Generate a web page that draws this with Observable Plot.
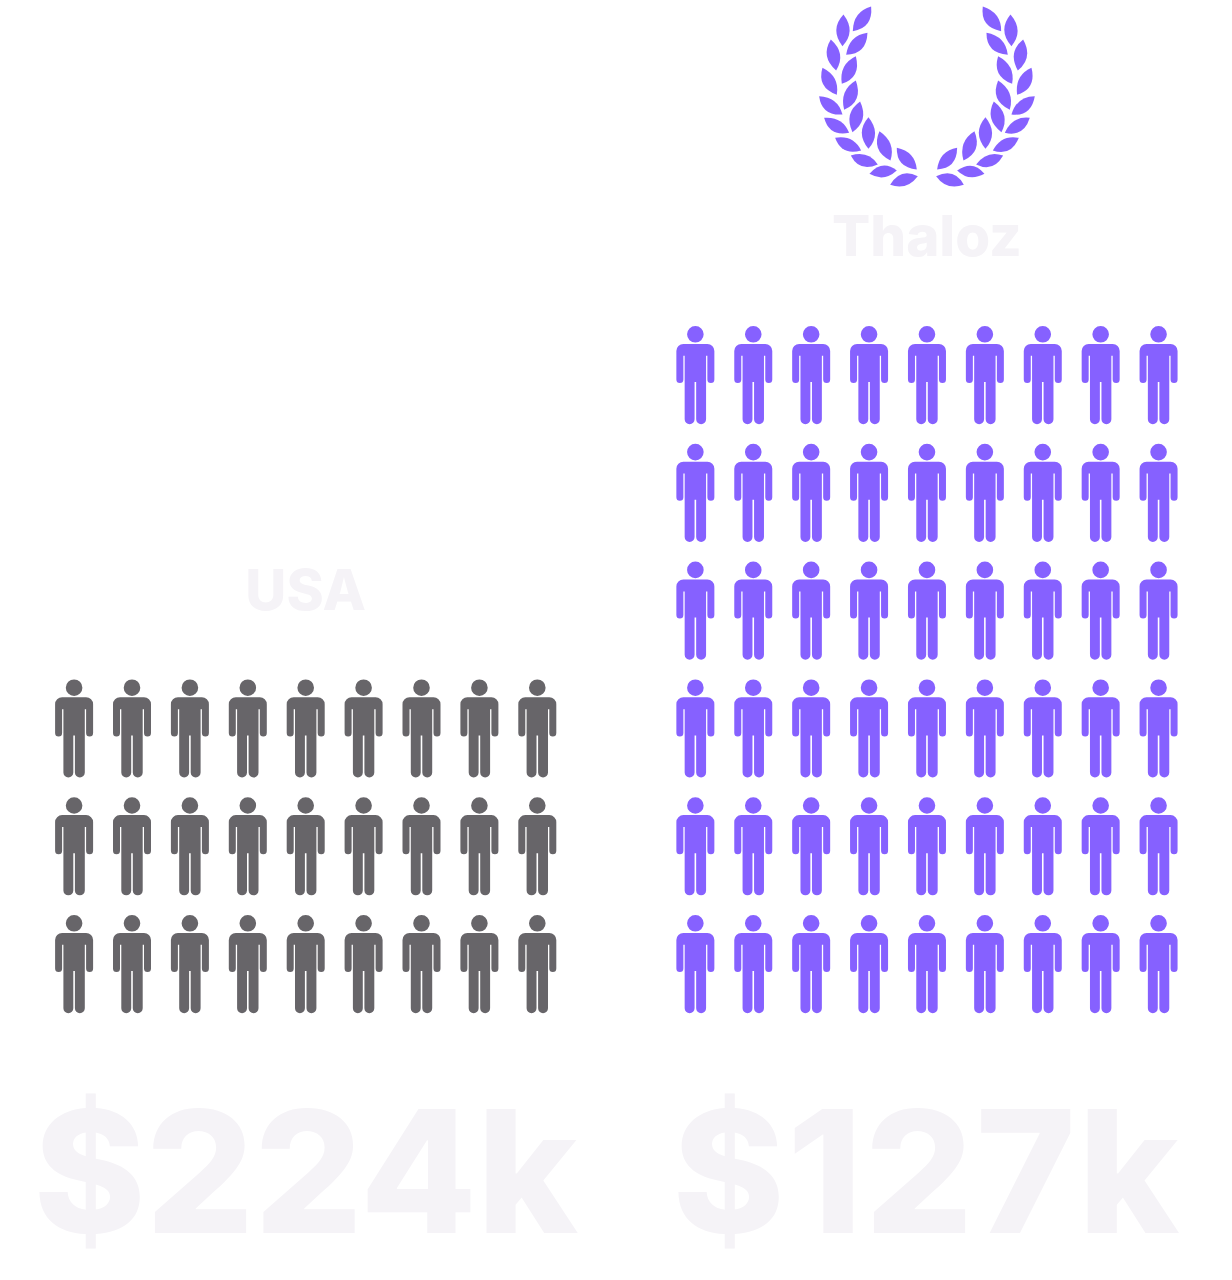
<!DOCTYPE html>
<html><head><meta charset="utf-8">
<style>html,body{margin:0;padding:0;background:#fff}svg{display:block}</style>
<script src="https://cdn.jsdelivr.net/npm/d3@7"></script>
<script src="https://cdn.jsdelivr.net/npm/@observablehq/plot@0.6"></script>
</head><body><script>
const groups = ["USA", "Thaloz"];
const iconCounts = [27, 54];
const prices = ["$224k", "$127k"];
const groupColors = ["#676569", "#8661FF"];
const perRow = 9;
const groupStartCol = [0, 10.73];

// laurel leaves of the left branch: tip and base, in a 3x-enlarged reading
const leafTipX  = [213,130,202, 92,167, 67,167, 57,180, 72,205,105,238,152,290,208,270];
const leafTipY  = [ 18, 42, 97,117,167,202,240,287,303,352,350,412,392,465,442,520,553];
const leafBaseX = [158,127,138,108,125,110,132,127,157,147,205,183,271,233,350,290,353];
const leafBaseY = [ 92,137,163,210,250,283,328,342,395,397,445,450,480,492,507,510,527];
const leafBend  = [  1,  0,  1,  0,  1, -1,  1, -1,  0, -1,  0, -1, -1, -1, -1,  1,  1];

const W = 1232, H = 1280, colPx = 57.9, rowPx = 117.8, col0Px = 73.6, row0Px = 963.8;

const icons = groups.flatMap((g, i) => d3.range(iconCounts[i]).map(k => ({
  group: g, col: groupStartCol[i] + k % perRow, row: Math.floor(k / perRow)
})));
const labels = groups.map((g, i) => ({
  name: g, price: prices[i], col: groupStartCol[i] + (perRow - 1) / 2,
  top: Math.ceil(iconCounts[i] / perRow) - 1
}));
const winner = labels[1];
const wreathMid = 380.5, leafUnit = 3;
const leaves = leafTipX.flatMap((_, i) => [1, -1].map(side => {
  const tx = (leafTipX[i] - wreathMid) * side, bx = (leafBaseX[i] - wreathMid) * side;
  const ty = leafTipY[i], by = leafBaseY[i];
  return {
    side,
    x: winner.col + (tx + bx) / 2 / leafUnit / colPx,
    y: (row0Px - (ty + by) / 2 / leafUnit) / rowPx,
    len: Math.hypot(tx - bx, ty - by) / leafUnit,
    angle: Math.atan2(tx - bx, by - ty) * 180 / Math.PI,
    bend: leafBend[i] * side
  };
}));

const person = {
  draw(c, size) {
    const k = Math.sqrt(size / Math.PI) / 49;
    const P = v => v * k;
    c.moveTo(P(8.3), P(-41)); c.arc(0, P(-41), P(8.3), 0, 2 * Math.PI); c.closePath();
    c.moveTo(P(-12), P(-31.4));
    c.arc(P(-12), P(-24.4), P(7), -Math.PI / 2, Math.PI, true);
    c.lineTo(P(-19), P(4.2));
    c.arc(P(-15.5), P(4.2), P(3.5), Math.PI, 0, true);
    c.lineTo(P(-12), P(-19.5)); c.lineTo(P(-10.7), P(-19.5));
    c.lineTo(P(-10.7), P(43.9));
    c.arc(P(-5.75), P(43.9), P(4.95), Math.PI, 0, true);
    c.lineTo(P(-0.8), P(6.7)); c.lineTo(P(0.8), P(6.7)); c.lineTo(P(0.8), P(43.9));
    c.arc(P(5.75), P(43.9), P(4.95), Math.PI, 0, true);
    c.lineTo(P(10.7), P(-19.5)); c.lineTo(P(12), P(-19.5)); c.lineTo(P(12), P(4.2));
    c.arc(P(15.5), P(4.2), P(3.5), Math.PI, 0, true);
    c.lineTo(P(19), P(-24.4));
    c.arc(P(12), P(-24.4), P(7), 0, -Math.PI / 2, true);
    c.closePath();
  }
};
const leafSymbol = b => ({
  draw(c, size) {
    const L = Math.sqrt(size / Math.PI);
    c.moveTo(0, -L / 2);
    c.quadraticCurveTo(L * (0.42 + b * 0.05), L * 0.02, 0, L / 2);
    c.quadraticCurveTo(L * (-0.42 + b * 0.05), -L * 0.02, 0, -L / 2);
    c.closePath();
  }
});

const textMark = (field, y, size) => Plot.text(labels, {
  x: "col", y, text: field, fontSize: size, fontWeight: 800,
  fontFamily: "Inter", fill: "#F5F3F7", textAnchor: "middle", lineAnchor: "middle"
});

const chart = Plot.plot({
  width: W, height: H, margin: 0,
  x: {domain: [-col0Px / colPx, (W - col0Px) / colPx], range: [0, W], axis: null},
  y: {domain: [row0Px / rowPx, (row0Px - H) / rowPx], range: [0, H], axis: null},
  r: {type: "identity"},
  color: {domain: groups, range: groupColors},
  style: {background: "#fff"},
  marks: [
    Plot.dot(icons, {x: "col", y: "row", r: 49, fill: "group", symbol: person}),
    ...[-1, 0, 1].map(b => Plot.dot(leaves.filter(d => d.bend === b), {
      x: "x", y: "y", r: "len", rotate: "angle", fill: groupColors[1], symbol: leafSymbol(b)
    })),
    textMark("name", d => d.top + 1.165, 56.5),
    textMark("price", () => -1.815, 170)
  ]
});
// the second price is set slightly more loosely than the first
d3.select(chart).selectAll("text").filter(function () { return this.textContent === prices[1]; })
  .style("letter-spacing", "2.5px");
document.body.appendChild(chart);
</script></body></html>
